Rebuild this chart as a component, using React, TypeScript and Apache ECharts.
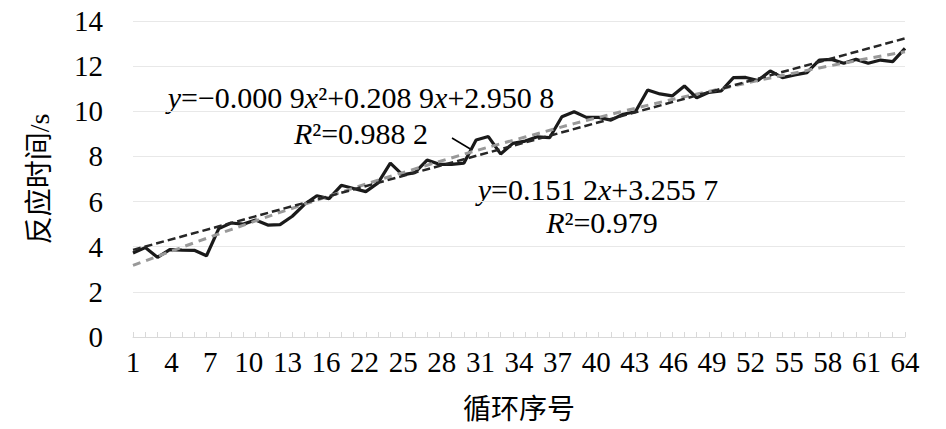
import React, { useEffect, useRef } from "react";
import * as echarts from "echarts";

const CYCLES = [
  1, 2, 3, 4, 5, 6, 7, 8, 9, 10, 11, 12, 13, 14, 15, 16, 17, 18, 19, 20, 21, 22,
  23, 24, 25, 26, 27, 28, 29, 30, 31, 32, 33, 34, 35, 36, 37, 38, 39, 40, 41, 42,
  43, 44, 45, 46, 47, 48, 49, 50, 51, 52, 53, 54, 55, 56, 57, 58, 59, 60, 61, 62,
  63, 64,
];

const RESPONSE_TIME = [
  3.72, 3.96, 3.53, 3.87, 3.85, 3.84, 3.6, 4.8, 5.05, 5.0, 5.18, 4.96, 4.98, 5.35,
  5.88, 6.26, 6.13, 6.72, 6.58, 6.44, 6.83, 7.7, 7.18, 7.28, 7.84, 7.65, 7.65, 7.7,
  8.73, 8.88, 8.11, 8.58, 8.68, 8.87, 8.83, 9.76, 9.98, 9.73, 9.73, 9.61, 9.87, 9.98,
  10.94, 10.77, 10.68, 11.12, 10.6, 10.84, 10.9, 11.49, 11.5, 11.36, 11.79, 11.49,
  11.61, 11.71, 12.27, 12.3, 12.13, 12.3, 12.13, 12.27, 12.2, 12.79,
];

// trend lines: [cycle, value]
const LINEAR_TREND: [number, number][] = [
  [1, 3.86],
  [64, 13.23],
];
const POLY_TREND: [number, number][] = [
  [1, 3.17],
  [9, 4.76],
  [17, 6.24],
  [25, 7.61],
  [33, 8.86],
  [41, 10.0],
  [49, 11.0],
  [57, 11.92],
  [64, 12.64],
];

const X_TICK_LABELS = [
  "1", "4", "7", "10", "13", "16", "22", "25", "28", "31", "34", "37", "40", "43",
  "46", "49", "52", "55", "58", "61", "64",
];

const Y_MIN = 0;
const Y_MAX = 14;
const Y_STEP = 2;

const SERIF = "'Liberation Serif', 'Times New Roman', serif";
const CJK = "'Liberation Serif', 'Noto Sans CJK SC', serif";

export default function App() {
  const ref = useRef<HTMLDivElement>(null);

  useEffect(() => {
    if (!ref.current) return;
    const chart = echarts.init(ref.current, undefined, { renderer: "svg" });
    const cats = CYCLES.map(String);
    const ital = {
      font: "italic 30px 'Liberation Serif', serif",
      fontStyle: "italic",
      fontFamily: "Liberation Serif",
      fontSize: 30,
      fill: "#000",
      lineHeight: 30,
    };
    const norm = {
      font: "normal 30px 'Liberation Serif', serif",
      fontFamily: "Liberation Serif",
      fontSize: 30,
      fill: "#000",
      lineHeight: 30,
    };
    const textStyle = (text: string) => ({
      text,
      rich: { i: ital, n: norm },
      font: "normal 30px 'Liberation Serif', serif",
      fontFamily: "Liberation Serif",
      fontSize: 30,
      fill: "#000",
      lineHeight: 30,
      align: "center",
      verticalAlign: "middle",
    });
    const option: any = {
      animation: false,
      backgroundColor: "#fff",
      grid: { left: 133, right: 41, top: 21, bottom: 92, containLabel: false },
      xAxis: [
        {
          type: "category",
          data: cats,
          boundaryGap: false,
          axisLine: { show: true, lineStyle: { color: "#d9d9d9", width: 1 } },
          axisTick: { show: true, inside: true, length: 5, interval: 0, lineStyle: { color: "#d9d9d9" } },
          axisLabel: { show: false },
          splitLine: { show: false },
          name: "循环序号",
          nameLocation: "middle",
          nameGap: 58,
          nameTextStyle: { fontFamily: CJK, fontSize: 28, color: "#000" },
        },
        {
          type: "category",
          data: X_TICK_LABELS,
          boundaryGap: false,
          position: "bottom",
          axisLine: { show: false },
          axisTick: { show: false },
          axisLabel: {
            show: true,
            interval: 0,
            margin: 10,
            fontFamily: SERIF,
            fontSize: 29,
            color: "#000",
          },
          splitLine: { show: false },
        },
      ],
      yAxis: {
        type: "value",
        min: Y_MIN,
        max: Y_MAX,
        interval: Y_STEP,
        axisLine: { show: false },
        axisTick: { show: false },
        axisLabel: { margin: 30, fontFamily: SERIF, fontSize: 29, color: "#000" },
        splitLine: { show: true, lineStyle: { color: "#e8e8e8", width: 1 } },
        name: "反应时间/s",
        nameLocation: "middle",
        nameRotate: 90,
        nameGap: 80,
        nameTextStyle: { fontFamily: CJK, fontSize: 28, color: "#000" },
      },
      series: [
        {
          type: "line",
          xAxisIndex: 0,
          data: RESPONSE_TIME,
          symbol: "none",
          lineStyle: { color: "#1a1a1a", width: 3.2 },
          z: 2,
        },
        {
          type: "line",
          xAxisIndex: 0,
          data: POLY_TREND.map(([c, v]) => [String(c), v]),
          symbol: "none",
          smooth: true,
          lineStyle: { color: "#999999", width: 3, type: [8, 6] },
          z: 3,
        },
        {
          type: "line",
          xAxisIndex: 0,
          data: LINEAR_TREND.map(([c, v]) => [String(c), v]),
          symbol: "none",
          lineStyle: { color: "#262626", width: 2.5, type: [8, 4] },
          z: 4,
        },
      ],
      graphic: [
        {
          type: "text",
          x: 361,
          y: 97,
          style: textStyle("{i|y}{n|=−0.000 9}{i|x}{n|²+0.208 9}{i|x}{n|+2.950 8}"),
        },
        {
          type: "text",
          x: 361,
          y: 133,
          style: textStyle("{i|R}{n|²=0.988 2}"),
        },
        {
          type: "text",
          x: 598,
          y: 189,
          style: textStyle("{i|y}{n|=0.151 2}{i|x}{n|+3.255 7}"),
        },
        {
          type: "text",
          x: 602,
          y: 222,
          style: textStyle("{i|R}{n|²=0.979}"),
        },
        {
          type: "line",
          shape: { x1: 452, y1: 138, x2: 472, y2: 150 },
          style: { stroke: "#000", lineWidth: 1.5 },
        },
      ],
    };
    chart.setOption(option);
    return () => chart.dispose();
  }, []);

  return (
    <div
      ref={ref}
      style={{ position: "fixed", left: 0, top: 0, width: 946, height: 429, background: "#fff" }}
    />
  );
}
